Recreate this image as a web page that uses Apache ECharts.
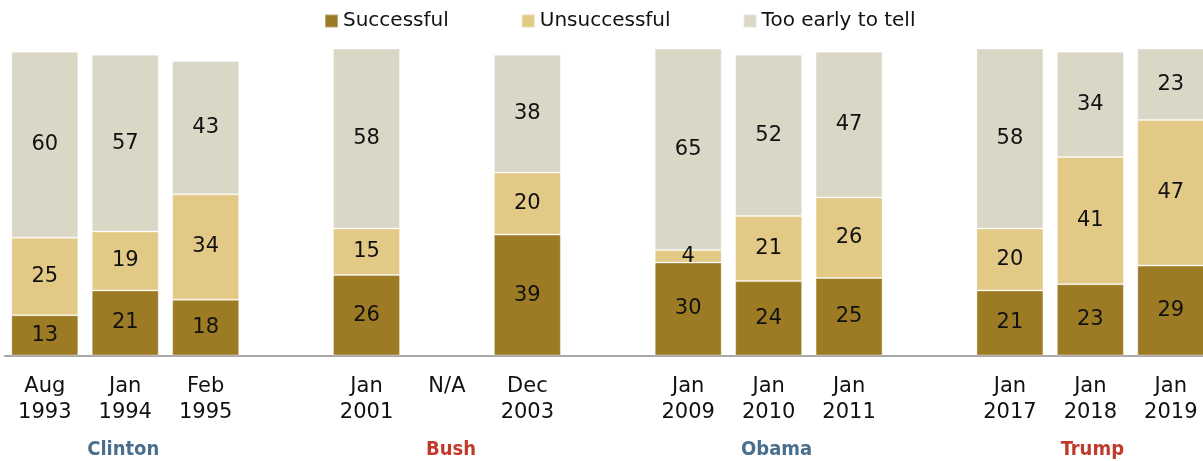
<!DOCTYPE html>
<html>
<head>
<meta charset="utf-8">
<script src="https://cdn.jsdelivr.net/npm/echarts@6/dist/echarts.min.js"></script>
<style>
html,body{margin:0;padding:0;background:#fff;overflow:hidden;}
#main{width:1211px;height:461px;}
</style>
</head>
<body>
<div id="main"></div>
<script>
var categories = ['Aug 1993','Jan 1994','Feb 1995','gap1','Jan 2001','N/A','Dec 2003','gap2','Jan 2009','Jan 2010','Jan 2011','gap3','Jan 2017','Jan 2018','Jan 2019'];
var tickLabels = ['Aug\n1993','Jan\n1994','Feb\n1995','','Jan\n2001','N/A','Dec\n2003','','Jan\n2009','Jan\n2010','Jan\n2011','','Jan\n2017','Jan\n2018','Jan\n2019'];
var presidents = ['','Clinton','','','','Bush','','','','Obama','','','','Trump',''];
var successful   = [13,21,18,null,26,null,39,null,30,24,25,null,21,23,29];
var unsuccessful = [25,19,34,null,15,null,20,null,4,21,26,null,20,41,47];
var tooEarly     = [60,57,43,null,58,null,38,null,65,52,47,null,58,34,23];

var chart = echarts.init(document.getElementById('main'));
var font = 'DejaVu Sans';
var presFont = 'DejaVu Sans Condensed, DejaVu Sans';
function presStyle(color, pad){
  return {color: color, fontFamily: presFont, fontWeight: 'bold', fontSize: 20, padding: pad};
}
function seriesOf(name, data, color){
  return {
    name: name, type: 'bar', stack: 'total', data: data,
    barWidth: 67,
    itemStyle: {color: color, borderColor: 'rgba(255,255,255,0.35)', borderWidth: 1},
    label: {show: true, position: 'inside', color: '#111', fontFamily: font, fontSize: 21,
      formatter: function(p){ return p.value == null ? '' : p.value; }},
    emphasis: {disabled: true}
  };
}
chart.setOption({
  animation: false,
  legend: {
    left: 324, top: 11, padding: 0, itemWidth: 13, itemHeight: 13, itemGap: 72, icon: 'rect',
    textStyle: {fontFamily: font, fontSize: 20, color: '#111'},
    data: ['Successful','Unsuccessful','Too early to tell']
  },
  grid: {left: 4.6, top: 45.5, right: 0, height: 310, containLabel: false},
  yAxis: {type: 'value', min: 0, max: 100, show: false},
  xAxis: [{
    type: 'category', data: categories, position: 'bottom',
    axisLine: {lineStyle: {color: '#a8a8a8', width: 2}},
    axisTick: {show: false},
    axisLabel: {interval: 0, margin: 18, fontFamily: font, fontSize: 21, color: '#111', lineHeight: 26,
      formatter: function(v, i){ return tickLabels[i]; }}
  },{
    type: 'category', data: categories, position: 'bottom', offset: 0,
    axisLine: {show: false}, axisTick: {show: false},
    axisLabel: {interval: 0, margin: 84,
      formatter: function(v, i){ return presidents[i] ? '{' + presidents[i] + '|' + presidents[i] + '}' : ''; },
      rich: {
        Clinton: presStyle('#4a6f8e', [0,4,0,0]),
        Bush: presStyle('#bf3a2b', [0,0,0,8]),
        Obama: presStyle('#4a6f8e', [0,0,0,16]),
        Trump: presStyle('#bf3a2b', [0,0,0,4])
      }}
  }],
  series: [
    seriesOf('Successful', successful, '#9c7b24'),
    seriesOf('Unsuccessful', unsuccessful, '#e2c985'),
    seriesOf('Too early to tell', tooEarly, '#dad7c6')
  ]
});
</script>
</body>
</html>
